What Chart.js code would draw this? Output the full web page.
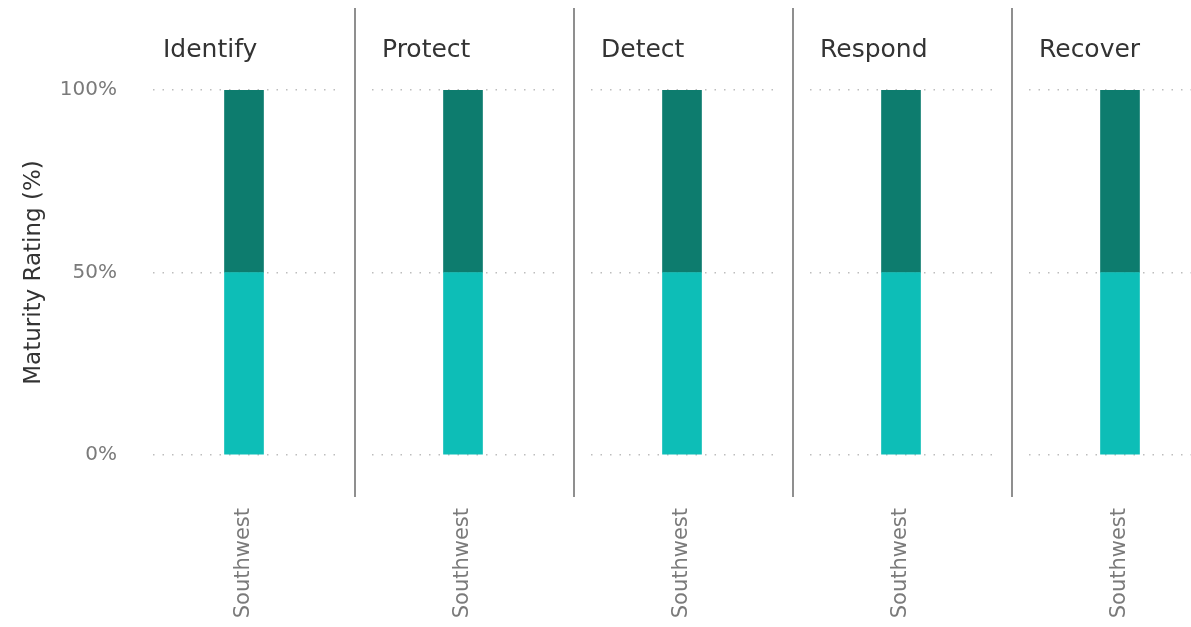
<!DOCTYPE html>
<html>
<head>
<meta charset="utf-8">
<script src="https://cdn.jsdelivr.net/npm/chart.js@4/dist/chart.umd.min.js"></script>
<style>
  html, body { margin: 0; padding: 0; background: #fff; overflow: hidden; }
  #wrap { position: relative; width: 1191px; height: 627px; overflow: hidden; background: #fff; }
  .panel { position: absolute; top: 0; height: 627px; }
  .sep { position: absolute; top: 8px; height: 489px; width: 2px; background: #8f8f8f; }
  .ptitle { position: absolute; top: 34px; font-family: "DejaVu Sans", sans-serif; font-size: 25px; line-height: 30px; color: #333; white-space: nowrap; }
</style>
</head>
<body>
<div id="wrap"></div>
<script>
// ---- data ----
const panelNames = ['Identify', 'Protect', 'Detect', 'Respond', 'Recover'];
const regions = ['Southwest'];
const lowerSeries = [50, 50, 50, 50, 50];   // light teal (bottom)
const upperSeries = [50, 50, 50, 50, 50];   // dark teal (top)
const yTickValues = [0, 50, 100];
const yAxisTitle = 'Maturity Rating (%)';

// ---- layout ----
const wrap = document.getElementById('wrap');
const plotLeft0 = 153, step = 219, plotWidth = 182;
const lightColor = '#0DBEB7';
const darkColor = '#0D7C6E';
const gridColor = '#bdbdbd';
const tickColor = '#7a7a7a';

panelNames.forEach((name, i) => {
  const first = i === 0;
  const plotLeft = plotLeft0 + step * i;
  const canvasLeft = first ? 0 : plotLeft;
  const canvasWidth = (plotLeft + plotWidth) - canvasLeft;

  const div = document.createElement('div');
  div.className = 'panel';
  div.style.left = canvasLeft + 'px';
  div.style.width = canvasWidth + 'px';
  const cv = document.createElement('canvas');
  div.appendChild(cv);
  wrap.appendChild(div);

  const t = document.createElement('div');
  t.className = 'ptitle';
  t.style.left = (plotLeft + 10) + 'px';
  t.textContent = name;
  wrap.appendChild(t);

  if (i > 0) {
    const s = document.createElement('div');
    s.className = 'sep';
    s.style.left = (plotLeft - 18) + 'px';
    wrap.appendChild(s);
  }

  new Chart(cv, {
    type: 'bar',
    data: {
      labels: regions,
      datasets: [
        { label: 'Lower', data: [lowerSeries[i]], backgroundColor: lightColor, barThickness: 39 },
        { label: 'Upper', data: [upperSeries[i]], backgroundColor: darkColor, barThickness: 39 }
      ]
    },
    options: {
      responsive: true,
      maintainAspectRatio: false,
      animation: false,
      layout: { padding: { top: 90, bottom: 0, left: 0, right: 0 } },
      plugins: { legend: { display: false }, tooltip: { enabled: false }, title: { display: false } },
      scales: {
        x: {
          stacked: true,
          grid: { display: false, drawTicks: false },
          border: { display: false },
          ticks: {
            minRotation: 90, maxRotation: 90, padding: 53,
            color: tickColor,
            font: { family: 'DejaVu Sans', size: 21 }
          },
          afterFit: (s) => { s.height = 172; }
        },
        y: {
          stacked: true,
          min: 0, max: 100,
          afterBuildTicks: (s) => { s.ticks = yTickValues.map(v => ({ value: v })); },
          grid: { color: gridColor, lineWidth: 1.5, drawTicks: false },
          border: { display: false, dash: [1.5, 8] },
          ticks: {
            display: first,
            padding: 36,
            color: tickColor,
            font: { family: 'DejaVu Sans', size: 20 },
            callback: (v) => v + '%'
          },
          title: {
            display: first,
            text: yAxisTitle,
            color: '#333',
            font: { family: 'DejaVu Sans', size: 23 },
            padding: { top: 20, bottom: 0 }
          },
          afterFit: (s) => { s.width = first ? plotLeft0 : 0; }
        }
      }
    }
  });
});
</script>
</body>
</html>
